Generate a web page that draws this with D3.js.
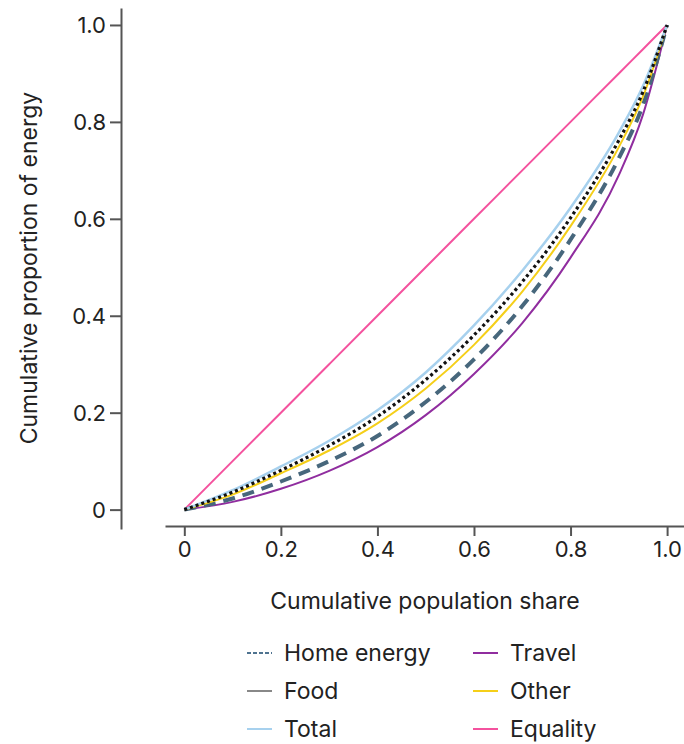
<!DOCTYPE html>
<html>
<head>
<meta charset="utf-8">
<script src="https://cdn.jsdelivr.net/npm/d3@7"></script>
<style>
  body { margin: 0; background: #fff; }
  text { font-family: Inter, "Open Sans", sans-serif; fill: #222; }
</style>
</head>
<body>
<svg id="chart" width="684" height="744"></svg>
<script>
// population share (x) and cumulative energy share for each series
const popShare   = [0, 0.1, 0.2, 0.3, 0.4, 0.5, 0.6, 0.7, 0.8, 0.9, 0.95, 1];
const totalVals  = [0, 0.040, 0.089, 0.142, 0.205, 0.283, 0.380, 0.493, 0.623, 0.778, 0.874, 1];
const foodVals   = [0, 0.036, 0.081, 0.132, 0.192, 0.268, 0.360, 0.470, 0.602, 0.762, 0.862, 1];
const otherVals  = [0, 0.031, 0.075, 0.122, 0.178, 0.250, 0.340, 0.450, 0.585, 0.748, 0.852, 1];
const homeVals   = [0, 0.023, 0.058, 0.100, 0.152, 0.222, 0.310, 0.420, 0.557, 0.725, 0.835, 1];
const travelVals = [0, 0.016, 0.043, 0.080, 0.129, 0.195, 0.280, 0.385, 0.520, 0.690, 0.815, 1];
const equality   = [0, 0.1, 0.2, 0.3, 0.4, 0.5, 0.6, 0.7, 0.8, 0.9, 0.95, 1];
const tickVals = [0, 0.2, 0.4, 0.6, 0.8, 1.0];

const svg = d3.select("#chart");

// axes are detached from the plot region (like R base graphics)
const x = d3.scaleLinear().domain([-0.04, 1.035]).range([165, 684]);
const y = d3.scaleLinear().domain([-0.04, 1.035]).range([529, 8]);

const fmt = d => d === 0 ? "0" : d.toFixed(1);

const yAxis = svg.append("g")
  .attr("transform", "translate(121,0)")
  .call(d3.axisLeft(y).tickValues(tickVals).tickFormat(fmt).tickSize(11).tickSizeOuter(0).tickPadding(4));
const xAxis = svg.append("g")
  .attr("transform", "translate(0,526)")
  .call(d3.axisBottom(x).tickValues(tickVals).tickFormat(fmt).tickSize(10).tickSizeOuter(0).tickPadding(5));

[xAxis, yAxis].forEach(g => {
  g.select(".domain").attr("stroke", "#555").attr("stroke-width", 2);
  g.selectAll(".tick line").attr("stroke", "#555").attr("stroke-width", 2);
  g.selectAll(".tick text").attr("font-size", 22).attr("fill", "#222")
    .style("font-family", "Inter, 'Open Sans', sans-serif");
});
yAxis.selectAll(".tick text").attr("dy", "0.35em");

svg.append("text")
  .attr("x", 425).attr("y", 609)
  .attr("text-anchor", "middle").attr("font-size", 23)
  .text("Cumulative population share");

svg.append("text")
  .attr("transform", "translate(37,268) rotate(-90)")
  .attr("text-anchor", "middle").attr("font-size", 23)
  .text("Cumulative proportion of energy");

const series = [
  { name: "Equality",    vals: equality,   color: "#f4529e", width: 2,   dash: null },
  { name: "Travel",      vals: travelVals, color: "#902d9f", width: 2,   dash: null },
  { name: "Home energy", vals: homeVals,   color: "#47677c", width: 4,   dash: "12 8" },
  { name: "Other",       vals: otherVals,  color: "#f5cf19", width: 2,   dash: null },
  { name: "Total",       vals: totalVals,  color: "#a7d1ee", width: 2.5, dash: null },
  { name: "Food",        vals: foodVals,   color: "#111111", width: 3.2, dash: "3 3" }
];

const line = d3.line()
  .x((d, i) => x(popShare[i]))
  .y(d => y(d))
  .curve(d3.curveMonotoneX);

series.forEach(s => {
  svg.append("path")
    .datum(s.vals)
    .attr("d", line)
    .attr("fill", "none")
    .attr("stroke", s.color)
    .attr("stroke-width", s.width)
    .attr("stroke-dasharray", s.dash);
});

// legend
const legendItems = [
  { name: "Home energy", color: "#4f7390", dash: "4 2", col: 0, row: 0 },
  { name: "Food",        color: "#888888", dash: null,  col: 0, row: 1 },
  { name: "Total",       color: "#a7d1ee", dash: null,  col: 0, row: 2 },
  { name: "Travel",      color: "#902d9f", dash: null,  col: 1, row: 0 },
  { name: "Other",       color: "#f5cf19", dash: null,  col: 1, row: 1 },
  { name: "Equality",    color: "#f4529e", dash: null,  col: 1, row: 2 }
];
const colX = [247, 473];
const rowY = [653, 691, 729];

const leg = svg.append("g").selectAll("g")
  .data(legendItems)
  .enter().append("g")
  .attr("transform", d => `translate(${colX[d.col]},${rowY[d.row]})`);

leg.append("line")
  .attr("x1", 0).attr("x2", 25).attr("y1", 0).attr("y2", 0)
  .attr("stroke", d => d.color).attr("stroke-width", 2)
  .attr("stroke-dasharray", d => d.dash);

leg.append("text")
  .attr("x", 37).attr("dy", "0.35em")
  .attr("font-size", 23)
  .text(d => d.name);
</script>
</body>
</html>
